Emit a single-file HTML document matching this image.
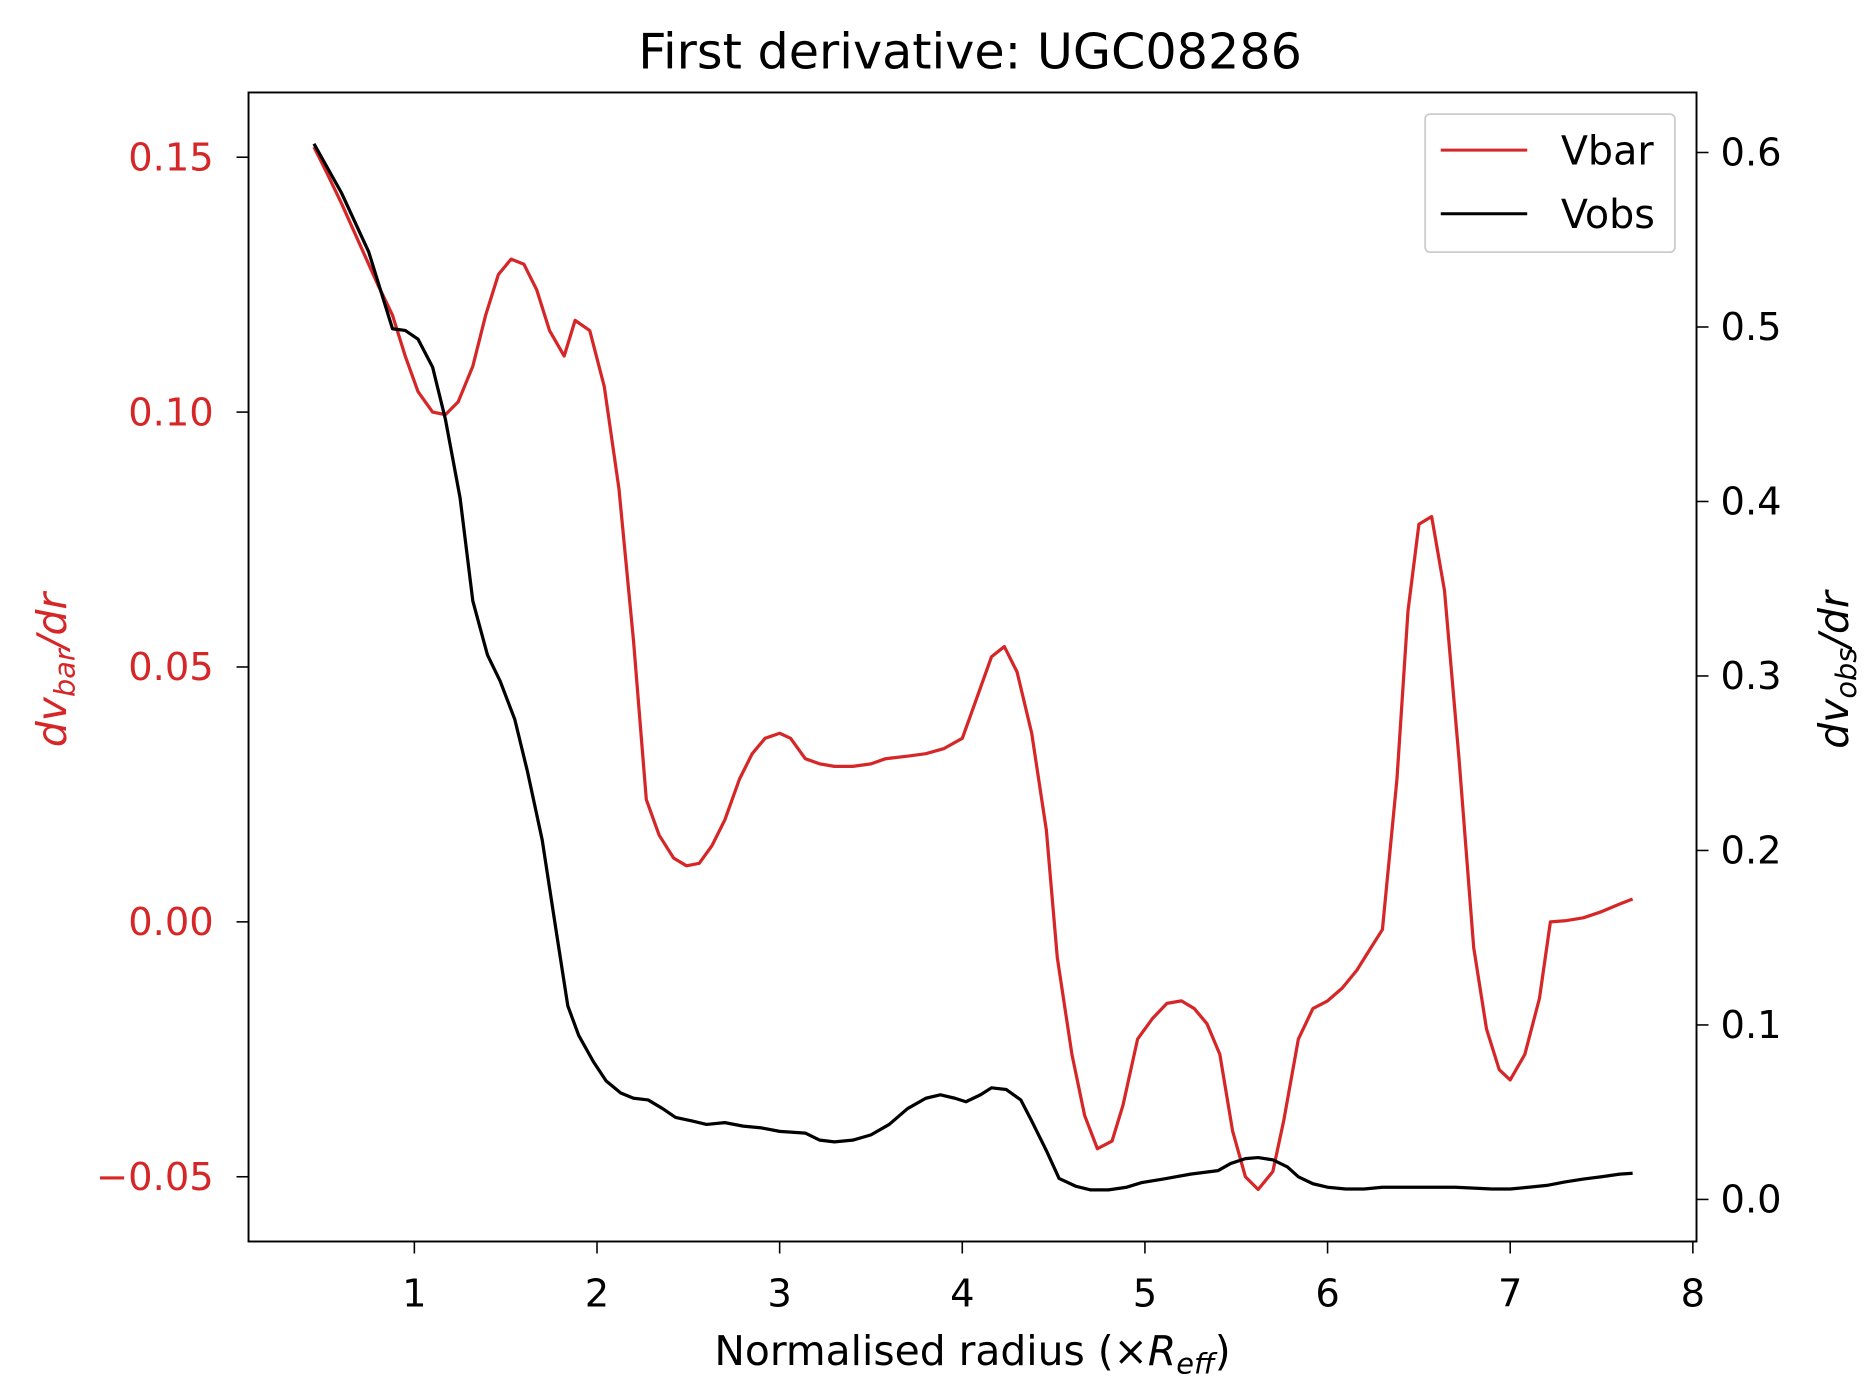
<!DOCTYPE html>
<html><head><meta charset="utf-8"><style>
html,body{margin:0;padding:0;background:#fff;}
svg{display:block;font-family:"DejaVu Sans","Liberation Sans",sans-serif;}
</style></head><body>
<svg id="chart" width="1873" height="1397" viewBox="0 0 1560 1163.5" xmlns="http://www.w3.org/2000/svg">
<rect x="0" y="0" width="1560" height="1163.5" fill="#fff"/>
<text x="808" y="57" font-size="41" text-anchor="middle">First derivative: UGC08286</text>
<g id="plot"></g>
<rect x="207" y="77" width="1206" height="957" fill="none" stroke="#000" stroke-width="1.6"/>
<text x="810" y="1137" font-size="34" text-anchor="middle">Normalised radius (×<tspan font-style="italic">R</tspan><tspan font-style="italic" font-size="24" dy="7">eff</tspan><tspan dy="-7">)</tspan></text>
<text transform="translate(55,558) rotate(-90)" font-size="34" fill="#d62728" text-anchor="middle" font-style="italic">dv<tspan font-size="24" dy="7">bar</tspan><tspan dy="-7">/dr</tspan></text>
<text transform="translate(1539,558) rotate(-90)" font-size="34" fill="#000" text-anchor="middle" font-style="italic">dv<tspan font-size="24" dy="7">obs</tspan><tspan dy="-7">/dr</tspan></text>
<g>
<rect x="1187" y="95" width="208" height="115" rx="4" fill="#fff" stroke="#ccc" stroke-width="1.5"/>
<line x1="1200" y1="125" x2="1272" y2="125" stroke="#d62728" stroke-width="2.5"/>
<text x="1300" y="137" font-size="33">Vbar</text>
<line x1="1200" y1="178" x2="1272" y2="178" stroke="#000" stroke-width="2.5"/>
<text x="1300" y="190" font-size="33">Vobs</text>
</g>
</svg>
<script>
const xTicks=[1,2,3,4,5,6,7,8];
const leftTicks=[0.15,0.10,0.05,0.00,-0.05];
const leftTickLabels=["0.15","0.10","0.05","0.00","\u22120.05"];
const rightTicks=[0.6,0.5,0.4,0.3,0.2,0.1,0.0];
const rightTickLabels=["0.6","0.5","0.4","0.3","0.2","0.1","0.0"];
const vbarX=[0.45,0.52,0.6,0.7,0.8,0.88,0.95,1.02,1.1,1.17,1.24,1.32,1.39,1.46,1.53,1.6,1.67,1.74,1.82,1.88,1.96,2.04,2.12,2.2,2.27,2.34,2.42,2.49,2.56,2.63,2.7,2.78,2.85,2.92,3.0,3.06,3.14,3.22,3.3,3.4,3.5,3.58,3.7,3.8,3.9,4.0,4.08,4.16,4.23,4.3,4.38,4.46,4.52,4.6,4.67,4.74,4.82,4.88,4.96,5.04,5.12,5.2,5.27,5.34,5.41,5.48,5.55,5.62,5.7,5.76,5.84,5.92,6.0,6.08,6.16,6.23,6.3,6.38,6.44,6.5,6.57,6.64,6.72,6.8,6.87,6.94,7.0,7.08,7.16,7.22,7.3,7.4,7.5,7.6,7.67];
const vbarY=[0.152,0.147,0.141,0.133,0.125,0.119,0.111,0.104,0.100,0.0995,0.102,0.109,0.119,0.127,0.130,0.129,0.124,0.116,0.111,0.118,0.116,0.105,0.085,0.055,0.024,0.017,0.0125,0.011,0.0115,0.015,0.020,0.028,0.033,0.036,0.037,0.036,0.032,0.031,0.0305,0.0305,0.031,0.032,0.0325,0.033,0.034,0.036,0.044,0.052,0.054,0.049,0.037,0.018,-0.007,-0.026,-0.038,-0.0445,-0.043,-0.036,-0.023,-0.019,-0.016,-0.0155,-0.017,-0.020,-0.026,-0.041,-0.050,-0.0525,-0.049,-0.039,-0.023,-0.017,-0.0155,-0.013,-0.0095,-0.0055,-0.0015,0.028,0.061,0.078,0.0795,0.065,0.032,-0.005,-0.021,-0.029,-0.031,-0.026,-0.015,0.0,0.0002,0.0008,0.002,0.0035,0.0045];
const vobsX=[0.45,0.6,0.75,0.88,0.95,1.02,1.1,1.17,1.25,1.32,1.4,1.47,1.55,1.62,1.7,1.77,1.84,1.9,1.98,2.05,2.13,2.2,2.28,2.36,2.43,2.52,2.6,2.7,2.8,2.9,3.0,3.14,3.22,3.3,3.4,3.5,3.6,3.7,3.8,3.88,3.96,4.02,4.1,4.16,4.24,4.32,4.38,4.46,4.53,4.62,4.7,4.8,4.9,4.98,5.1,5.25,5.4,5.47,5.55,5.62,5.7,5.78,5.84,5.92,6.0,6.1,6.2,6.3,6.5,6.7,6.9,7.0,7.1,7.2,7.3,7.4,7.5,7.6,7.67];
const vobsY=[0.605,0.577,0.543,0.499,0.498,0.493,0.477,0.447,0.402,0.343,0.312,0.297,0.275,0.245,0.206,0.158,0.111,0.094,0.079,0.068,0.061,0.058,0.057,0.052,0.047,0.045,0.043,0.044,0.042,0.041,0.039,0.038,0.034,0.033,0.034,0.037,0.043,0.052,0.058,0.060,0.058,0.056,0.060,0.064,0.063,0.057,0.045,0.028,0.012,0.0076,0.0055,0.0055,0.007,0.0096,0.0117,0.0145,0.0165,0.0206,0.0234,0.024,0.0227,0.0186,0.013,0.009,0.007,0.006,0.006,0.007,0.007,0.007,0.006,0.006,0.007,0.008,0.010,0.0117,0.013,0.0145,0.015];

const L=207,R=1413,T=77,B=1034;
const xMin=0.092,xMax=8.02,lMin=-0.0627,lMax=0.1627,rMin=-0.0241,rMax=0.6344;
const sx=v=>L+(v-xMin)/(xMax-xMin)*(R-L);
const sl=v=>B-(v-lMin)/(lMax-lMin)*(B-T);
const sr=v=>B-(v-rMin)/(rMax-rMin)*(B-T);
const NS="http://www.w3.org/2000/svg";
const g=document.getElementById('plot');
function mk(tag,attrs,parent){const e=document.createElementNS(NS,tag);for(const k in attrs)e.setAttribute(k,attrs[k]);(parent||g).appendChild(e);return e;}

xTicks.forEach((v,i)=>{
  const x=sx(v);
  const t=mk('line',{x1:x,y1:B,x2:x,y2:B+10,stroke:'#000','stroke-width':1.3});
  
  
  const l=mk('text',{x:x,y:B+54,'font-size':32,'text-anchor':'middle'});
  l.textContent=String(v);
  
  
});
leftTicks.forEach((v,i)=>{
  const y=sl(v);
  const t=mk('line',{x1:L-10,y1:y,x2:L,y2:y,stroke:'#000','stroke-width':1.3});
  
  
  const l=mk('text',{x:L-29,y:y+11,'font-size':32,'text-anchor':'end',fill:'#d62728'});
  l.textContent=leftTickLabels[i];
  
  
});
rightTicks.forEach((v,i)=>{
  const y=sr(v);
  const t=mk('line',{x1:R,y1:y,x2:R+10,y2:y,stroke:'#000','stroke-width':1.3});
  
  
  const l=mk('text',{x:R+20,y:y+11,'font-size':32,'text-anchor':'start'});
  l.textContent=rightTickLabels[i];
  
  
});
const pv=vbarX.map((x,i)=>sx(x).toFixed(1)+','+sl(vbarY[i]).toFixed(1)).join(' ');
const lv=mk('polyline',{points:pv,fill:'none',stroke:'#d62728','stroke-width':2.7,'stroke-linejoin':'round'});


const po=vobsX.map((x,i)=>sx(x).toFixed(1)+','+sr(vobsY[i]).toFixed(1)).join(' ');
const lo=mk('polyline',{points:po,fill:'none',stroke:'#000','stroke-width':2.7,'stroke-linejoin':'round'});


</script>
</body></html>
